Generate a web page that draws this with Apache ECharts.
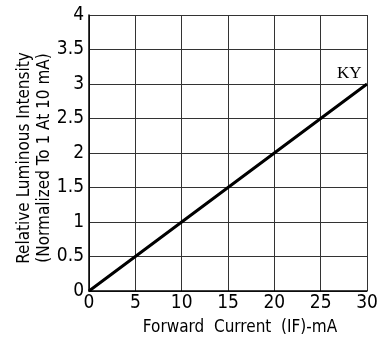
<!DOCTYPE html>
<html><head><meta charset="utf-8">
<script src="https://cdn.jsdelivr.net/npm/echarts@6/dist/echarts.min.js"></script>
<style>html,body{margin:0;padding:0;background:#fff}#c{width:385px;height:338px}</style>
</head><body><div id="c"></div>
<script>
const currentMA = [0, 5, 10, 15, 20, 25, 30];
const relIntensity = [0, 0.5, 1, 1.5, 2, 2.5, 3];
const seriesLabel = 'KY';
const xTitle = 'Forward  Current  (IF)-mA';
const yTitle = 'Relative Luminous Intensity\n(Normalized To 1 At 10 mA)';

const chart = echarts.init(document.getElementById('c'));
const font = '"DejaVu Sans Condensed", sans-serif';
const tickFont = '"Liberation Sans Narrow", "DejaVu Sans Condensed", sans-serif';
chart.setOption({
  animation: false,
  grid: {left: 89, top: 15, width: 278, height: 276, show: false, containLabel: false, outerBoundsMode: 'none'},
  xAxis: {
    type: 'value', min: 0, max: 30, interval: 5,
    name: xTitle, nameLocation: 'middle', nameGap: 28, nameMoveOverlap: false,
    nameTextStyle: {color: '#000', fontFamily: font, fontSize: 17, padding: [0, 0, 0, 24]},
    axisLine: {show: true, lineStyle: {color: '#000', width: 1.5}},
    axisTick: {show: false},
    axisLabel: {color: '#000', fontFamily: tickFont, fontSize: 19, margin: 3},
    splitLine: {show: true, lineStyle: {color: '#333', width: 1}}
  },
  yAxis: {
    type: 'value', min: 0, max: 4, interval: 0.5,
    name: yTitle, nameLocation: 'middle', nameGap: 34, nameRotate: 90, nameMoveOverlap: false,
    nameTextStyle: {color: '#000', fontFamily: font, fontSize: 17, lineHeight: 20, padding: [0, 10, 0, 0]},
    axisLine: {show: true, lineStyle: {color: '#000', width: 1.5}},
    axisTick: {show: false},
    axisLabel: {color: '#000', fontFamily: tickFont, fontSize: 19, margin: 5},
    splitLine: {show: true, lineStyle: {color: '#333', width: 1}}
  },
  series: [{
    type: 'line', name: seriesLabel,
    data: currentMA.map((x, i) => [x, relIntensity[i]]),
    showSymbol: false, symbol: 'none',
    lineStyle: {color: '#000', width: 3},
    endLabel: {show: true, formatter: seriesLabel, color: '#000', fontFamily: '"Liberation Serif", serif', fontSize: 17, offset: [-38, -10]}
  }]
});
</script></body></html>
